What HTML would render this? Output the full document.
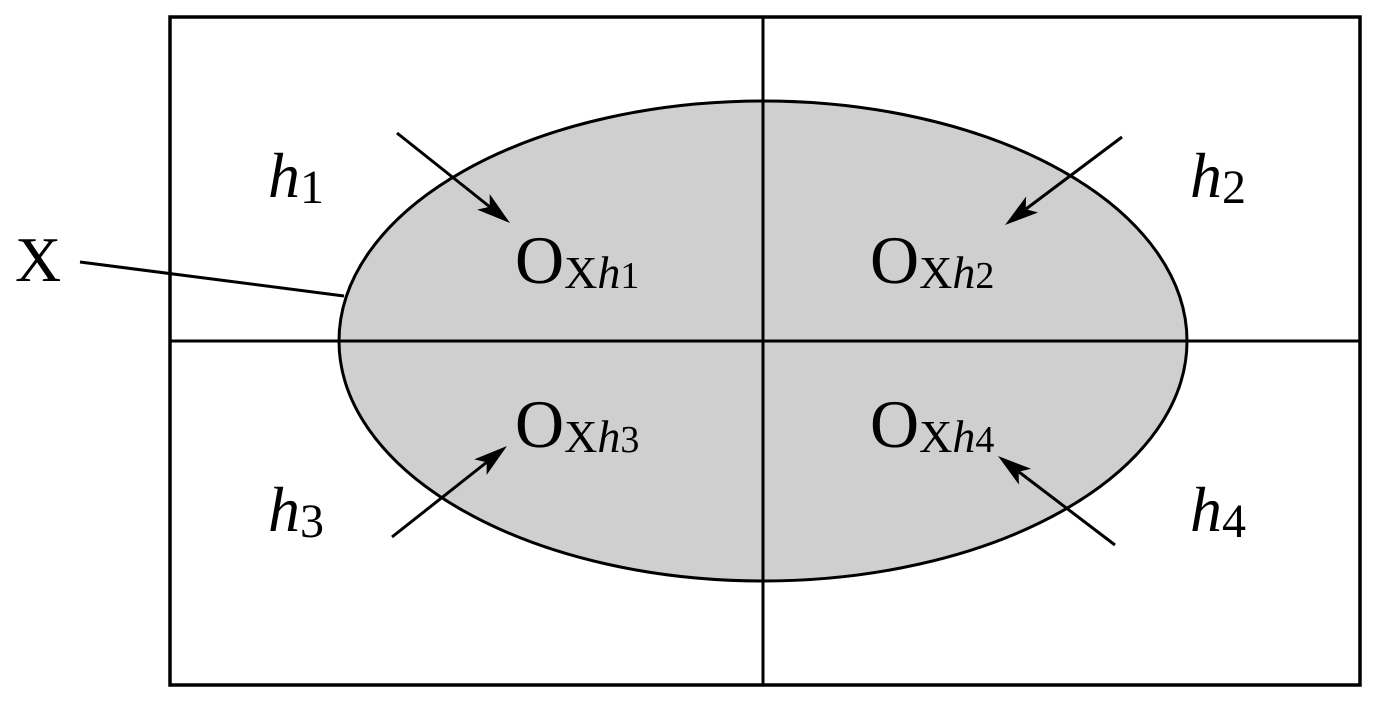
<!DOCTYPE html>
<html><head><style>
html,body{margin:0;padding:0;background:#fff;}
svg{display:block;}
text,tspan{font-family:"Liberation Serif","Times New Roman",Times,serif;fill:#000;}
</style></head><body>
<svg width="1380" height="707" viewBox="0 0 1380 707" xmlns="http://www.w3.org/2000/svg">
<ellipse cx="763" cy="341" rx="424" ry="240" fill="#d0cfd0" stroke="#000" stroke-width="3"/>
<rect x="170" y="17" width="1190" height="668" fill="none" stroke="#000" stroke-width="3.5"/>
<line x1="763" y1="17" x2="763" y2="685" stroke="#000" stroke-width="3"/>
<line x1="170" y1="341" x2="1360" y2="341" stroke="#000" stroke-width="3"/>
<line x1="80" y1="262" x2="344" y2="296" stroke="#000" stroke-width="3"/>
<g stroke="#000" stroke-width="3">
<line x1="397" y1="133" x2="490" y2="207"/>
<line x1="1122" y1="137" x2="1026" y2="209"/>
<line x1="392" y1="537" x2="487" y2="462"/>
<line x1="1115" y1="545" x2="1019" y2="472"/>
</g>
<g fill="#000">
<polygon points="510,223 477.2,209.6 489.7,206.8 489.7,194"/>
<polygon points="1005,225 1026.1,196.5 1025.7,209.3 1038.1,212.5"/>
<polygon points="507,446 486.6,475 486.7,462.2 474.2,459.4"/>
<polygon points="998,456 1031.1,468.8 1018.6,471.8 1018.9,484.6"/>
</g>
<text x="15" y="281" font-size="64">X</text>
<text x="268" y="197" font-size="64" font-style="italic">h</text><text x="300" y="203" font-size="48">1</text>
<text x="1190" y="197" font-size="64" font-style="italic">h</text><text x="1222" y="203" font-size="48">2</text>
<text x="268" y="531" font-size="64" font-style="italic">h</text><text x="300" y="537" font-size="48">3</text>
<text x="1190" y="531" font-size="64" font-style="italic">h</text><text x="1222" y="537" font-size="48">4</text>
<text x="515" y="283" font-size="68">O<tspan font-size="46" dy="5">X</tspan><tspan font-size="46" font-style="italic">h</tspan><tspan font-size="38">1</tspan></text>
<text x="870" y="283" font-size="68">O<tspan font-size="46" dy="5">X</tspan><tspan font-size="46" font-style="italic">h</tspan><tspan font-size="38">2</tspan></text>
<text x="515" y="447" font-size="68">O<tspan font-size="46" dy="5">X</tspan><tspan font-size="46" font-style="italic">h</tspan><tspan font-size="38">3</tspan></text>
<text x="870" y="447" font-size="68">O<tspan font-size="46" dy="5">X</tspan><tspan font-size="46" font-style="italic">h</tspan><tspan font-size="38">4</tspan></text>
</svg>
</body></html>
